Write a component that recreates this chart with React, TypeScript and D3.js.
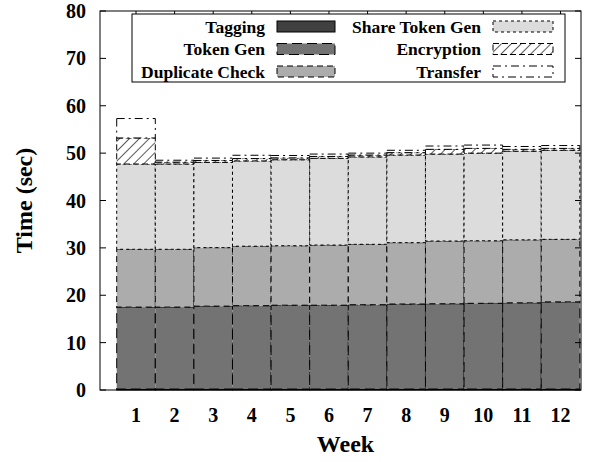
import React from "react";
import * as d3 from "d3";

const weeks = [1, 2, 3, 4, 5, 6, 7, 8, 9, 10, 11, 12];
const seriesNames = ["Tagging", "Token Gen", "Duplicate Check", "Share Token Gen", "Encryption", "Transfer"];
const tagging = [0.2, 0.2, 0.2, 0.2, 0.2, 0.2, 0.2, 0.2, 0.2, 0.2, 0.2, 0.2];
const tokenGen = [17.3, 17.3, 17.5, 17.6, 17.7, 17.7, 17.8, 17.95, 18.0, 18.1, 18.2, 18.4];
const duplicateCheck = [12.2, 12.2, 12.35, 12.55, 12.55, 12.7, 12.75, 12.95, 13.25, 13.2, 13.3, 13.2];
const shareTokenGen = [18.0, 18.0, 18.0, 18.0, 18.15, 18.3, 18.45, 18.5, 18.35, 18.5, 18.7, 18.8];
const encryption = [5.5, 0.4, 0.4, 0.5, 0.4, 0.4, 0.4, 0.5, 1.0, 1.0, 0.4, 0.4];
const transfer = [4.1, 0.4, 0.5, 0.7, 0.5, 0.5, 0.4, 0.5, 0.7, 0.7, 0.6, 0.6];
const yTicks = [0, 10, 20, 30, 40, 50, 60, 70, 80];

const seriesValues = [tagging, tokenGen, duplicateCheck, shareTokenGen, encryption, transfer];
const fills = ["#404040", "#737373", "#acacac", "#dcdcdc", "url(#hatch)", "#ffffff"];
const dashes = ["none", "10,5", "6,4", "3,3", "6,3", "8,4,2,4"];

const W = 600, H = 462;
const left = 100, right = 581, top = 11, bottom = 390;
const FONT = "Liberation Serif";

function T(props: any) {
  const { children, ...rest } = props;
  return (
    <text fontFamily={FONT} fontWeight="bold" style={{ fontFamily: FONT, fontWeight: 700 }} {...rest}>
      {children}
    </text>
  );
}

export default function App() {
  const x = d3.scaleLinear().domain([0.067, 12.53]).range([left, right]);
  const y = d3.scaleLinear().domain([0, 80]).range([bottom, top]);

  const rows = weeks.map((w, i) => {
    const r: any = { week: w };
    seriesNames.forEach((n, k) => (r[n] = seriesValues[k][i]));
    return r;
  });
  const stacked = d3.stack().keys(seriesNames)(rows);

  const legendItems = seriesNames.map((n, k) => ({
    name: n,
    col: k < 3 ? 0 : 1,
    row: k % 3,
    fill: fills[k],
    dash: dashes[k],
  }));
  const rowY = [26.5, 49, 71.5];
  const textX = [265, 481];
  const swX = [277, 493];
  const swW = [58, 60];

  return (
    <svg width={W} height={H} style={{ position: "absolute", left: 0, top: 0 }}>
      <defs>
        <pattern id="hatch" patternUnits="userSpaceOnUse" width="7" height="7" patternTransform="rotate(45)">
          <rect width="7" height="7" fill="#fff" />
          <line x1="0" y1="0" x2="0" y2="7" stroke="#000" strokeWidth="1.3" />
        </pattern>
      </defs>
      <rect x={0} y={0} width={W} height={H} fill="#fff" />

      {weeks.map((w) => (
        <line key={"bt" + w} x1={x(w)} x2={x(w)} y1={bottom} y2={bottom - 6} stroke="#000" />
      ))}

      {stacked.map((s, k) => (
        <g key={"s" + k}>
          {s.map((d, i) => {
            const x0 = x(weeks[i] - 0.5);
            const x1 = x(weeks[i] + 0.5);
            const yt = y(d[1]);
            const yb = y(d[0]);
            return (
              <rect
                key={i}
                x={x0}
                y={yt}
                width={x1 - x0}
                height={Math.max(0, yb - yt)}
                fill={fills[k]}
                stroke="#000"
                strokeWidth={1}
                strokeDasharray={dashes[k]}
              />
            );
          })}
        </g>
      ))}

      <rect x={left} y={top} width={right - left} height={bottom - top} fill="none" stroke="#000" strokeWidth={1} />
      {yTicks.map((t) => (
        <g key={"yt" + t}>
          <line x1={left} x2={left + 6} y1={y(t)} y2={y(t)} stroke="#000" />
          <line x1={right} x2={right - 6} y1={y(t)} y2={y(t)} stroke="#000" />
          <T x={86} y={y(t) + 7} textAnchor="end" fontSize={20}>
            {t}
          </T>
        </g>
      ))}
      {weeks.map((w) => (
        <g key={"xt" + w}>
          <line x1={x(w)} x2={x(w)} y1={top} y2={top + 6} stroke="#000" />
          <T x={x(w)} y={422} textAnchor="middle" fontSize={20}>
            {w}
          </T>
        </g>
      ))}

      <T x={(left + right) / 2 + 5} y={452} textAnchor="middle" fontSize={24}>
        Week
      </T>
      <T transform={`translate(32, ${(top + bottom) / 2}) rotate(-90)`} textAnchor="middle" fontSize={24}>
        Time (sec)
      </T>

      <rect x={132} y={14} width={433} height={68} fill="#fff" stroke="#000" strokeWidth={1} />
      {legendItems.map((it) => (
        <g key={"lg" + it.name}>
          <T x={textX[it.col]} y={rowY[it.row] + 6} textAnchor="end" fontSize={17.5}>
            {it.name}
          </T>
          <rect
            x={swX[it.col]}
            y={rowY[it.row] - 5.5}
            width={swW[it.col]}
            height={11}
            fill={it.fill}
            stroke="#000"
            strokeWidth={1}
            strokeDasharray={it.dash}
          />
        </g>
      ))}
    </svg>
  );
}
